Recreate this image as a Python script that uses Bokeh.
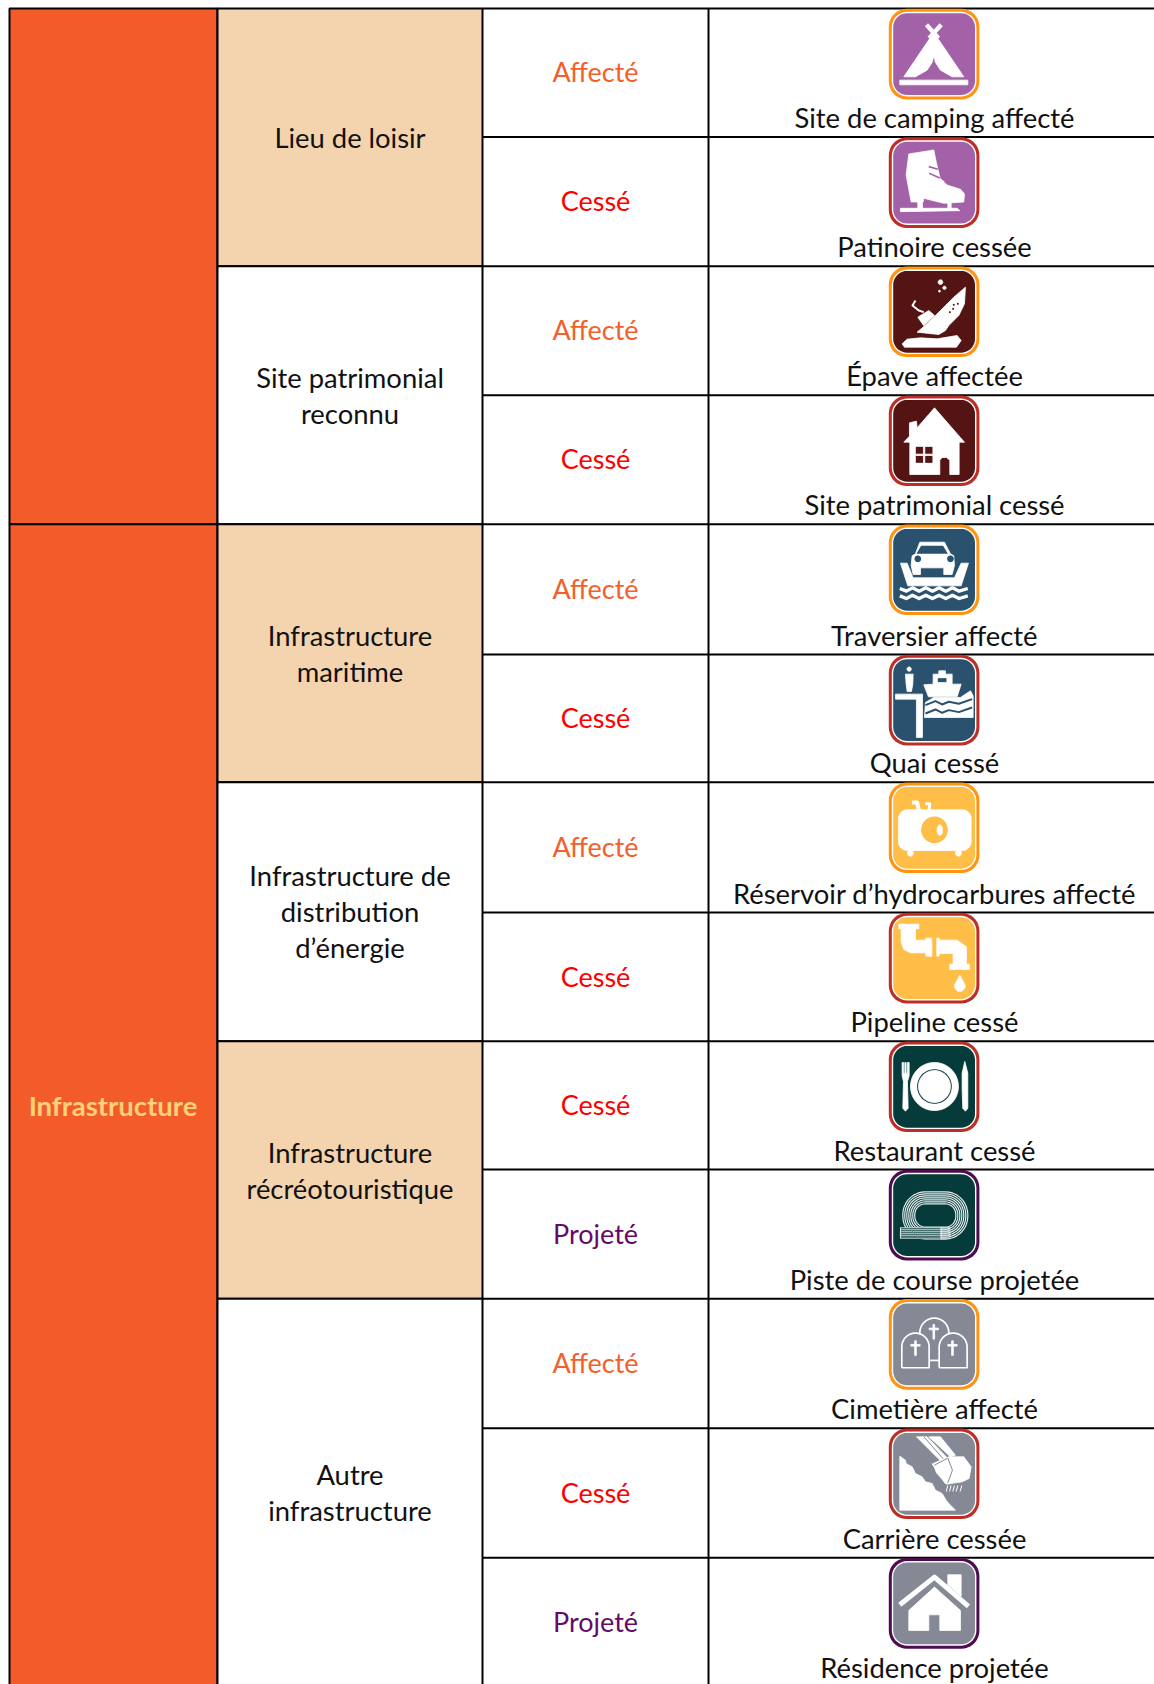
import numpy as np
from bokeh.plotting import figure
from bokeh.models import Range1d
from bokeh.core.properties import value
from bokeh.embed import file_html
from bokeh.resources import INLINE

# ---------- table content ----------
CATEGORY_LABELS = ["", "Infrastructure"]
GROUP_LABELS = ["Lieu de loisir", "Site patrimonial\nreconnu", "Infrastructure\nmaritime",
                "Infrastructure de\ndistribution\nd’énergie", "Infrastructure\nrécréotouristique",
                "Autre\ninfrastructure"]
GROUP_SPANS = [2, 2, 2, 2, 2, 3]
CATEGORY_SPANS = [4, 9]
STATUSES = ["Affecté", "Cessé", "Affecté", "Cessé", "Affecté", "Cessé", "Affecté", "Cessé",
            "Cessé", "Projeté", "Affecté", "Cessé", "Projeté"]
CAPTIONS = ["Site de camping affecté", "Patinoire cessée", "Épave affectée", "Site patrimonial cessé",
            "Traversier affecté", "Quai cessé", "Réservoir d’hydrocarbures affecté", "Pipeline cessé",
            "Restaurant cessé", "Piste de course projetée", "Cimetière affecté", "Carrière cessée",
            "Résidence projetée"]
ICONS = ["tent", "skate", "wreck", "heritage", "ferry", "quay", "tank", "pipe", "plate", "track",
         "graves", "quarry", "home"]

# ---------- layout and colours ----------
ROW_EDGES = [8, 136.5, 265.7, 394.7, 523.7, 654, 781.7, 912, 1040.7, 1169, 1298.3, 1427.7, 1557.3, 1686]
COL_EDGES = [9, 217, 482, 708, 1160]
ORANGE, TAN = "#F35B2A", "#F4D4AE"
STATUS_COL = {"Affecté": "#F4602C", "Cessé": "#FF0000", "Projeté": "#660A66"}
RING_COL = {"Affecté": "#FF9412", "Cessé": "#BC2E26", "Projeté": "#4E0C50"}
ICON_COL = {"tent": "#A362A8", "skate": "#A362A8", "wreck": "#541414", "heritage": "#541414",
            "ferry": "#2A526E", "quay": "#2A526E", "tank": "#FFBE47", "pipe": "#FFBE47",
            "plate": "#053B3B", "track": "#053B3B", "graves": "#858995", "quarry": "#858995",
            "home": "#858995"}
FONT = value("Lato")
BODY = "27.4px"

p = figure(width=1154, height=1684, x_range=Range1d(0, 1154), y_range=Range1d(1684, 0),
           output_backend="svg", toolbar_location=None, min_border=0)
p.axis.visible = False
p.grid.visible = False
p.outline_line_color = None
p.background_fill_color = "white"


def txt(x, y, s, color="#111111", size=BODY, style="normal"):
    lines = s.split("\n")
    y0 = y - (len(lines) - 1) * 36 / 2
    for i, l in enumerate(lines):
        p.text([x], [y0 + i * 36], text=[l], text_color=color, text_font=FONT, text_font_size=size,
               text_font_style=style, text_align="center", text_baseline="middle")


# cell fills and rules
r = 0
for i, span in enumerate(CATEGORY_SPANS):
    p.quad(left=[COL_EDGES[0]], right=[COL_EDGES[1]], top=[ROW_EDGES[r]], bottom=[ROW_EDGES[r + span]],
           fill_color=ORANGE, line_color="black", line_width=2)
    r += span
r = 0
for i, span in enumerate(GROUP_SPANS):
    fill = TAN if i in (0, 2, 4) else "white"
    p.quad(left=[COL_EDGES[1]], right=[COL_EDGES[2]], top=[ROW_EDGES[r]], bottom=[ROW_EDGES[r + span]],
           fill_color=fill, line_color="black", line_width=2)
    r += span
p.segment(x0=[COL_EDGES[2]] * 14, x1=[COL_EDGES[4]] * 14, y0=ROW_EDGES, y1=ROW_EDGES,
          line_color="black", line_width=2)
p.segment(x0=[COL_EDGES[3]], x1=[COL_EDGES[3]], y0=[ROW_EDGES[0]], y1=[ROW_EDGES[-1]],
          line_color="black", line_width=2)

# cell texts
xc = [(COL_EDGES[i] + COL_EDGES[i + 1]) / 2 for i in range(4)]
r = 0
for label, span in zip(CATEGORY_LABELS, CATEGORY_SPANS):
    if label:
        txt(xc[0] - 0.5, (ROW_EDGES[r] + ROW_EDGES[r + span]) / 2 + 0.5, label, "#FFD27A", "27.5px", "bold")
    r += span
r = 0
for label, span in zip(GROUP_LABELS, GROUP_SPANS):
    txt(xc[1], (ROW_EDGES[r] + ROW_EDGES[r + span]) / 2, label)
    r += span
for i, s in enumerate(STATUSES):
    txt(xc[2], (ROW_EDGES[i] + ROW_EDGES[i + 1]) / 2 - 0.8, s, STATUS_COL[s], "27px")
    txt(934, ROW_EDGES[i + 1] - 19.3, CAPTIONS[i])


# ---------- pictograms ----------
class Icon:
    """Pictogram drawn in crop-grid units (3 units per pixel) through the figure's scales."""

    def __init__(self, x0, y0, ox, oy):
        self.x0, self.y0, self.ox, self.oy = x0, y0, ox, oy

    def tx(self, pts):
        a = np.asarray(pts, float)
        return (a[:, 0] - self.ox) / 3 + self.x0, (a[:, 1] - self.oy) / 3 + self.y0

    def poly(self, pts, c="white"):
        x, y = self.tx(pts)
        if c == "white":
            p.patch(x, y, fill_color=c, line_color="white", line_width=0.8, line_join="round")
        else:
            p.patch(x, y, fill_color=c, line_color=None)

    def line(self, pts, w, c="white"):
        x, y = self.tx(pts)
        p.line(x, y, line_color=c, line_width=w / 3, line_join="round")

    def oval(self, cx, cy, rx, ry=None, c="white"):
        ry = rx if ry is None else ry
        t = np.linspace(0, 2 * np.pi, 48)
        self.poly(np.c_[cx + rx * np.cos(t), cy + ry * np.sin(t)], c)

    def rect(self, a, b, c_, d, col="white"):
        self.poly([(a, b), (c_, b), (c_, d), (a, d)], col)


def rrect(x0, y0, x1, y1, rad):
    out = []
    for cx, cy, s in [(x1 - rad, y0 + rad, -np.pi / 2), (x1 - rad, y1 - rad, 0),
                      (x0 + rad, y1 - rad, np.pi / 2), (x0 + rad, y0 + rad, np.pi)]:
        t = np.linspace(s, s + np.pi / 2, 10)
        out.append(np.c_[cx + rad * np.cos(t), cy + rad * np.sin(t)])
    return np.vstack(out)


def tent(k, c):
    k.line([(198, 72), (234, 112)], 13)
    k.line([(242, 72), (206, 112)], 13)
    k.poly([(220, 95), (130, 228), (165, 228), (200, 208), (215, 185), (220, 165), (225, 185), (240, 208),
            (275, 228), (310, 228)])
    k.rect(118, 238, 322, 252)


def skate(k, c):
    k.poly([(145, 462), (220, 450), (228, 490), (240, 540), (262, 556), (300, 568), (312, 582), (310, 606),
            (250, 610), (190, 595), (188, 606), (152, 606), (137, 525)])
    k.line([(205, 490), (228, 494)], 9)
    k.line([(206, 510), (234, 520)], 9)
    k.line([(224, 530), (250, 548)], 9)
    k.line([(205, 500), (232, 508)], 5, c)
    k.line([(206, 520), (238, 534)], 5, c)
    k.rect(172, 604, 186, 628)
    k.rect(262, 606, 272, 628)
    k.poly([(120, 625), (290, 625), (298, 632), (120, 635)])


def wreck(k, c):
    k.poly([(125, 250), (140, 236), (180, 232), (230, 235), (290, 225), (302, 240), (288, 260), (132, 260)])
    k.poly([(315, 80), (312, 130), (295, 165), (265, 195), (255, 210), (235, 222), (170, 215), (200, 190),
            (240, 150), (280, 110)])
    k.poly([(172, 170), (205, 150), (222, 165), (190, 196)])
    k.line([(165, 120), (156, 135), (175, 150), (190, 155)], 6)
    k.oval(240, 65, 7)
    k.oval(252, 82, 5)
    k.oval(237, 92, 3)
    for x, y in [(292, 130), (278, 145), (268, 155), (280, 133)]:
        k.oval(x, y, 3, c=c)


def heritage(k, c):
    k.poly([(222, 445), (312, 548), (296, 548), (296, 645), (268, 645), (268, 602), (258, 594), (245, 594),
            (238, 602), (238, 645), (148, 645), (148, 548), (130, 548), (147, 530), (147, 490), (168, 485),
            (170, 505)])
    k.rect(166, 562, 216, 610, c)
    k.rect(189, 562, 193, 610)
    k.rect(166, 584, 216, 588)


def ferry(k, c):
    k.poly([(178, 65), (252, 65), (270, 100), (280, 106), (282, 135), (275, 162), (250, 162), (250, 142),
            (180, 142), (180, 162), (158, 162), (152, 135), (155, 106), (165, 100)])
    k.poly([(182, 76), (248, 76), (262, 100), (168, 100)], c)
    k.oval(172, 115, 10, c=c)
    k.oval(270, 115, 10, c=c)
    k.poly([(120, 128), (140, 128), (158, 172), (282, 172), (302, 128), (324, 128), (302, 196), (142, 196)])
    wave = [(0, 4), (20, 12), (38, 2), (58, 12), (78, 2), (98, 12), (118, 2), (138, 12), (158, 2), (178, 12),
            (204, 4)]
    k.line([(118 + x, 200 + y) for x, y in wave], 10)
    k.line([(118 + x, 222 + y) for x, y in wave], 10)


def quay(k, c):
    k.oval(146, 445, 6.5)
    k.poly([(135, 460), (158, 460), (157, 490), (153, 512), (140, 512), (137, 490)])
    k.poly([(105, 520), (186, 520), (186, 650), (168, 650), (168, 535), (105, 535)])
    k.poly([(190, 492), (218, 490), (218, 460), (235, 460), (235, 450), (255, 450), (255, 460), (275, 460),
            (275, 490), (302, 490), (290, 528), (204, 528)])
    k.rect(232, 472, 258, 484, c)
    k.poly([(192, 590), (338, 590), (338, 525), (330, 510), (300, 530), (260, 530), (220, 530), (195, 545)])
    for yy in (545, 570):
        k.line([(195, yy + 8), (225, yy - 4), (245, yy + 6), (265, yy - 2), (295, yy + 4), (335, yy - 10)], 6, c)


def tank(k, c):
    k.line([(155, 70), (170, 70), (175, 92)], 12)
    k.line([(195, 74), (208, 74), (206, 92)], 9)
    k.poly(rrect(114, 92, 332, 214, 26))
    k.oval(222, 152, 40, c=c)
    k.oval(238, 153, 8, 16)
    k.oval(150, 222, 9)
    k.oval(294, 222, 9)


def pipe(k, c):
    k.rect(115, 432, 175, 446)
    k.poly([(122, 446), (165, 446), (165, 480), (196, 480), (196, 474), (214, 474), (214, 528), (196, 528),
            (196, 518), (150, 518), (130, 508), (122, 485)])
    k.rect(229, 474, 236, 528)
    k.poly([(236, 480), (290, 480), (318, 500), (318, 552), (326, 552), (328, 568), (268, 568), (268, 552),
            (278, 552), (278, 520), (236, 520)])
    k.poly([(298, 585), (314, 615), (314, 622), (305, 633), (291, 633), (282, 622), (282, 615)])


def plate(k, c):
    k.oval(222, 140, 72)
    k.oval(222, 140, 52, c=c)
    k.oval(222, 140, 48)
    k.poly([(125, 68), (129, 68), (129, 100), (133, 100), (133, 68), (137, 68), (137, 100), (141, 100), (141, 68),
            (146, 68), (146, 108), (141, 125), (143, 205), (135, 214), (127, 205), (129, 125), (125, 108)])
    k.poly([(313, 65), (322, 100), (322, 205), (315, 214), (307, 205), (305, 150), (305, 100)])


def track(k, c):
    for off in (0, 6, 12, 18, 24, 30, 36):
        rr = rrect(127 + off, 458 + off, 322 - off, 600 - off, 68 - off)
        k.line(np.vstack([rr, rr[:1]]), 3.5, "#E6ECEC")
    k.rect(120, 565, 240, 600, c)
    for yy in (566, 572, 578, 584, 590, 597):
        k.line([(120, yy), (270, yy)], 3, "#E6ECEC")
    k.line([(120, 565), (120, 598)], 3, "#E6ECEC")
    k.line([(242, 565), (242, 598)], 3, "#E6ECEC")
    k.line([(145, 565), (175, 597)], 3, "#6E8E8E")


def graves(k, c):
    def stone(x0, x1, top, bot, cx, cy):
        a = (x1 - x0) / 2
        t = np.linspace(np.pi, 2 * np.pi, 18)
        arc = np.c_[x0 + a + a * np.cos(t), top + a + a * np.sin(t)]
        pts = np.vstack([[(x0, bot)], arc, [(x1, bot)], [(x0, bot)]])
        k.poly(pts, c)
        k.line(pts, 5)
        k.rect(cx - 2.5, cy - 22, cx + 2.5, cy + 22)
        k.rect(cx - 14, cy - 11, cx + 14, cy - 6)
    stone(178, 265, 85, 225, 220, 126)
    k.rect(205, 210, 236, 232, c)
    k.line([(205, 212), (236, 212)], 5)
    stone(124, 206, 130, 234, 165, 175)
    stone(236, 320, 130, 234, 276, 175)


def quarry(k, c):
    k.poly([(118, 498), (135, 510), (137, 520), (155, 530), (165, 550), (185, 560), (195, 575), (215, 580),
            (225, 600), (245, 610), (258, 632), (270, 645), (285, 660), (118, 660)])
    k.poly([(168, 440), (200, 440), (262, 505), (240, 512)])
    k.poly([(205, 440), (240, 440), (285, 495), (270, 500)])
    k.line([(190, 440), (250, 508)], 3, c)
    k.poly([(218, 520), (265, 500), (310, 500), (332, 530), (326, 565), (305, 575), (258, 582), (228, 548)])
    k.line([(222, 525), (262, 504), (276, 540), (262, 578)], 3, c)
    k.line([(214, 520), (256, 582)], 3)
    for x in (262, 272, 282, 292, 304):
        k.line([(x, 586), (x - 5, 604)], 3)


def home(k, c):
    k.poly([(262, 855), (302, 855), (302, 920), (262, 885)])
    k.line([(118, 945), (222, 862), (324, 950)], 15)
    k.poly([(145, 962), (222, 892), (300, 962), (300, 1022), (238, 1022), (238, 975), (205, 975), (205, 1022),
            (145, 1022)])


DRAW = {"tent": (tent, 24), "skate": (skate, 412), "wreck": (wreck, 18), "heritage": (heritage, 408),
        "ferry": (ferry, 12), "quay": (quay, 402), "tank": (tank, 10), "pipe": (pipe, 398),
        "plate": (plate, 5), "track": (track, 392), "graves": (graves, 28), "quarry": (quarry, 415),
        "home": (home, 805)}

for i, name in enumerate(ICONS):
    fn, oy = DRAW[name]
    x0, y0 = 888.3, ROW_EDGES[i] + 0.3
    for inset, col, rad in [(0, RING_COL[STATUSES[i]], 18), (3.0, "white", 15.5), (4.4, ICON_COL[name], 14)]:
        pts = rrect(x0 + inset, y0 + inset, x0 + 90.6 - inset, y0 + 90.6 - inset, rad)
        p.patch(pts[:, 0], pts[:, 1], fill_color=col, line_color=None)
    fn(Icon(x0, y0, 85, oy), ICON_COL[name])

open("out.html", "w").write(file_html(p, INLINE))
